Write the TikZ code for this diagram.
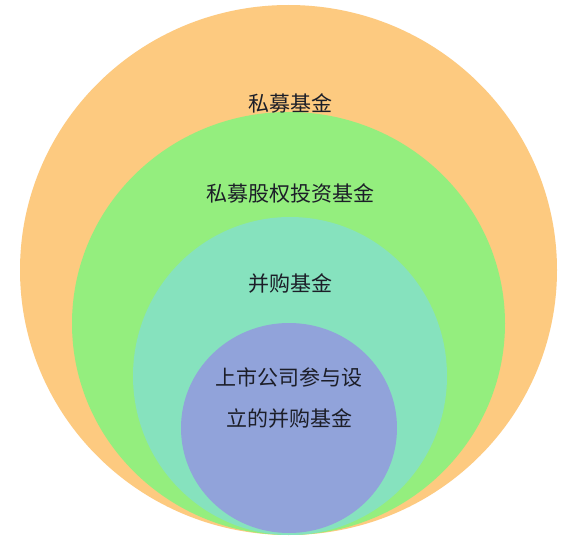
\documentclass[tikz,border=0pt]{standalone}
\usepackage{fontspec}
\newfontfamily\cjk{Noto Sans CJK SC}
\definecolor{orangefill}{HTML}{FDCA80}
\definecolor{greenfill}{HTML}{94EE7E}
\definecolor{cyanfill}{HTML}{86E2BE}
\definecolor{bluefill}{HTML}{91A3DA}
\definecolor{labeltext}{HTML}{1C1E28}
\begin{document}
\begin{tikzpicture}[x=1pt,y=-1pt,
    label/.style={text=labeltext,inner sep=0pt,font=\cjk\fontsize{21}{25}\selectfont}]
    \useasboundingbox[fill=white] (0,0) rectangle (571,551);
    \fill[orangefill] (288.5,270) ellipse [x radius=268.5pt, y radius=265pt];
    \fill[greenfill] (288.5,323.5) ellipse [x radius=216.5pt, y radius=211.5pt];
    \fill[cyanfill] (290,376) ellipse [x radius=157pt, y radius=159pt];
    \fill[bluefill] (289,428) ellipse [x radius=108pt, y radius=105pt];
    \node[label] (pf) at (290,103) {私募基金};
    \node[label] (pe) at (290,193) {私募股权投资基金};
    \node[label] (ma) at (290,283) {并购基金};
    \node[label] (lc1) at (289,377) {上市公司参与设};
    \node[label] (lc2) at (289,418) {立的并购基金};
  \end{tikzpicture}
\end{document}
